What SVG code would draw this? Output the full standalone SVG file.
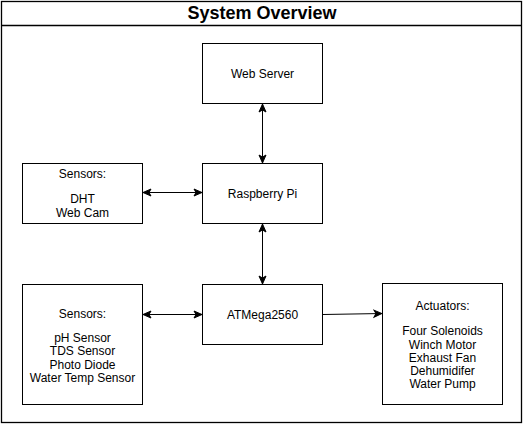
<svg xmlns="http://www.w3.org/2000/svg" width="524" height="425" viewBox="0 0 524 425">
<style>
.box{fill:#fff;stroke:#000;stroke-width:1}
.t{font-family:"Liberation Sans",Arial,sans-serif;font-size:12px;fill:#000;text-anchor:middle}
.title{font-family:"Liberation Sans",Arial,sans-serif;font-size:18px;font-weight:bold;fill:#000;text-anchor:middle}
.c{fill:none;stroke:#000;stroke-width:1}
</style>
<defs>
<marker id="ah" markerWidth="10" markerHeight="10" viewBox="0 0 10 10" refX="9" refY="5" orient="auto-start-reverse" markerUnits="userSpaceOnUse">
<path d="M1,1.5 L9,5 L1,8.5 L3,5 Z" fill="#000" stroke="#000" stroke-width="1"/>
</marker>
</defs>
<rect width="524" height="425" fill="#fff"/>
<g id="frame">
<rect x="1.5" y="1.5" width="520" height="421" fill="#fff" stroke="#000" stroke-width="1.3"/>
<line x1="1.5" y1="25.5" x2="521.5" y2="25.5" stroke="#000" stroke-width="1.3"/>
<text class="title" x="262" y="18.5">System Overview</text>
</g>
<g id="connectors">
<line class="c" x1="262.5" y1="104" x2="262.5" y2="163" marker-start="url(#ah)" marker-end="url(#ah)"/>
<line class="c" x1="143" y1="192.5" x2="202" y2="192.5" marker-start="url(#ah)" marker-end="url(#ah)"/>
<line class="c" x1="262.5" y1="224" x2="262.5" y2="284" marker-start="url(#ah)" marker-end="url(#ah)"/>
<line class="c" x1="143" y1="314.5" x2="202" y2="314.5" marker-start="url(#ah)" marker-end="url(#ah)"/>
<line class="c" x1="323" y1="314.5" x2="382" y2="313.5" marker-end="url(#ah)"/>
</g>
<g id="web-server">
<rect class="box" x="202.5" y="43.5" width="120" height="60"/>
<text class="t" x="262.5" y="77.5">Web Server</text>
</g>
<g id="raspberry-pi">
<rect class="box" x="202.5" y="163.5" width="120" height="60"/>
<text class="t" x="262.5" y="197.5">Raspberry Pi</text>
</g>
<g id="atmega">
<rect class="box" x="202.5" y="284.5" width="120" height="60"/>
<text class="t" x="262.5" y="318.5">ATMega2560</text>
</g>
<g id="sensors-top">
<rect class="box" x="22.5" y="163.5" width="120" height="60"/>
<text class="t" x="82.5" y="177.5">Sensors:</text>
<text class="t" x="82.5" y="202.5">DHT</text>
<text class="t" x="82.5" y="216.5">Web Cam</text>
</g>
<g id="sensors-bottom">
<rect class="box" x="22.5" y="284.5" width="120" height="120"/>
<text class="t" x="82.5" y="317.5">Sensors:</text>
<text class="t" x="82.5" y="341.5">pH Sensor</text>
<text class="t" x="82.5" y="355">TDS Sensor</text>
<text class="t" x="82.5" y="368.5">Photo Diode</text>
<text class="t" x="82.5" y="382">Water Temp Sensor</text>
</g>
<g id="actuators">
<rect class="box" x="382.5" y="283.5" width="120" height="121"/>
<text class="t" x="442.5" y="309.5">Actuators:</text>
<text class="t" x="442.5" y="335">Four Solenoids</text>
<text class="t" x="442.5" y="348.5">Winch Motor</text>
<text class="t" x="442.5" y="361.5">Exhaust Fan</text>
<text class="t" x="442.5" y="374.5">Dehumidifer</text>
<text class="t" x="442.5" y="388">Water Pump</text>
</g>
</svg>
